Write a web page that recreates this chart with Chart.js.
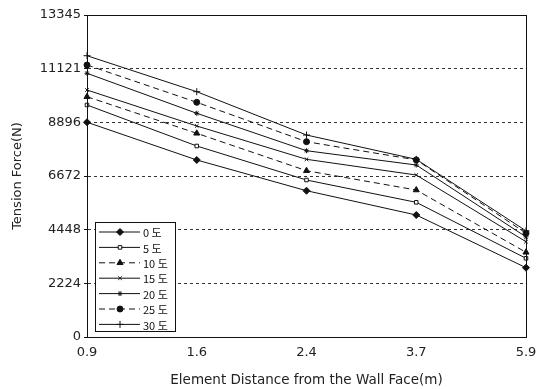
<!DOCTYPE html>
<html>
<head>
<meta charset="utf-8">
<script src="https://cdn.jsdelivr.net/npm/chart.js"></script>
<style>
  html, body { margin: 0; padding: 0; background: #fff; }
</style>
</head>
<body>
<canvas id="chart" width="550" height="389"></canvas>
<script>
const categories = ['0.9', '1.6', '2.4', '3.7', '5.9']
const yTicks = [0, 2224, 4448, 6672, 8896, 11121, 13345]

const names = ['0 도', '5 도', '10 도', '15 도', '20 도', '25 도', '30 도']
const deg0 = [8900, 7336, 6063, 5056, 2872]
const deg5 = [9615, 7916, 6506, 5581, 3261]
const deg10 = [9959, 8442, 6892, 6092, 3510]
const deg15 = [10237, 8745, 7364, 6713, 3949]
const deg20 = [10929, 9271, 7720, 7128, 4150]
const deg25 = [11273, 9727, 8094, 7340, 4300]
const deg30 = [11658, 10166, 8371, 7363, 4400]

const ink = '#111'
const textFont = 'DejaVu Sans'

function series(label, data, style, radius, dashed, fill) {
    return {
        label: label,
        data: data,
        borderColor: ink,
        borderWidth: 1,
        borderDash: dashed ? [6, 4] : [],
        pointStyle: style,
        pointRadius: radius,
        pointBorderColor: ink,
        pointBackgroundColor: fill ? ink : '#fff',
        pointBorderWidth: 1,
        tension: 0
    }
}

const datasets = [
    series(names[0], deg0, 'rectRot', 3.5, false, true),
    series(names[1], deg5, 'rect', 2.5, false, false),
    series(names[2], deg10, 'triangle', 3.5, true, true),
    series(names[3], deg15, 'crossRot', 2.5, false, true),
    series(names[4], deg20, 'star', 2.5, false, true),
    series(names[5], deg25, 'circle', 3, true, true),
    series(names[6], deg30, 'cross', 3.5, false, true)
]

// frame around the plot area
const frame = {
    id: 'frame',
    afterDraw(chart) {
        const a = chart.chartArea, c = chart.ctx
        c.save()
        c.strokeStyle = ink
        c.lineWidth = 1
        c.strokeRect(a.left + 0.5, a.top + 0.5, a.right - a.left, a.bottom - a.top)
        c.restore()
    }
}

// boxed legend in the lower left of the plot
const boxLegend = {
    id: 'boxLegend',
    afterDraw(chart) {
        const c = chart.ctx
        const x0 = 95, y0 = 222, w = 80, h = 109
        c.save()
        c.fillStyle = '#fff'
        c.fillRect(x0, y0, w, h)
        c.strokeStyle = ink
        c.lineWidth = 1
        c.strokeRect(x0 + 0.5, y0 + 0.5, w, h)
        chart.data.datasets.forEach((ds, i) => {
            const y = y0 + 10 + i * 15.4
            c.strokeStyle = ink
            c.setLineDash(ds.borderDash)
            c.beginPath()
            c.moveTo(x0 + 4, y)
            c.lineTo(x0 + 45, y)
            c.stroke()
            c.setLineDash([])
            c.fillStyle = ds.pointBackgroundColor
            c.strokeStyle = ink
            Chart.helpers.drawPoint(c, {
                pointStyle: ds.pointStyle,
                radius: ds.pointRadius,
                rotation: 0,
                borderWidth: 1
            }, x0 + 25, y)
            c.fillStyle = ink
            c.font = '11px "Noto Sans CJK KR", "DejaVu Sans", sans-serif'
            c.textBaseline = 'middle'
            c.fillText(ds.label, x0 + 48, y + 1)
        })
        c.restore()
    }
}

new Chart(document.getElementById('chart'), {
    type: 'line',
    data: { labels: categories, datasets: datasets },
    plugins: [frame, boxLegend],
    options: {
        responsive: false,
        animation: false,
        layout: { padding: { top: 15, right: 24, left: 0, bottom: 0 } },
        plugins: { legend: { display: false }, tooltip: { enabled: false } },
        scales: {
            x: {
                type: 'category',
                offset: false,
                grid: { display: false, drawTicks: false },
                border: { color: ink },
                ticks: {
                    color: '#222',
                    padding: 8,
                    maxRotation: 0,
                    font: { family: textFont, size: 13 }
                },
                title: {
                    display: true,
                    text: 'Element Distance from the Wall Face(m)',
                    color: '#222',
                    padding: { top: 8, bottom: 0 },
                    font: { family: textFont, size: 13.5 }
                },
                afterFit(scale) { scale.height = 52 }
            },
            y: {
                min: 0,
                max: 13345,
                afterBuildTicks(scale) {
                    scale.ticks = yTicks.map(v => ({ value: v }))
                },
                grid: {
                    color: ctx => (ctx.index === 0 || ctx.index === yTicks.length - 1) ? 'rgba(0,0,0,0)' : '#333',
                    tickColor: ink,
                    tickLength: 3,
                    lineWidth: 1
                },
                border: { color: ink, dash: [3, 3] },
                ticks: {
                    color: '#222',
                    padding: 3,
                    font: { family: textFont, size: 13 },
                    callback: v => String(v)
                },
                title: {
                    display: true,
                    text: 'Tension Force(N)',
                    color: '#222',
                    padding: { top: 10, bottom: 0 },
                    font: { family: textFont, size: 13 }
                },
                afterFit(scale) { scale.width = 87 }
            }
        }
    }
})
</script>
</body>
</html>
